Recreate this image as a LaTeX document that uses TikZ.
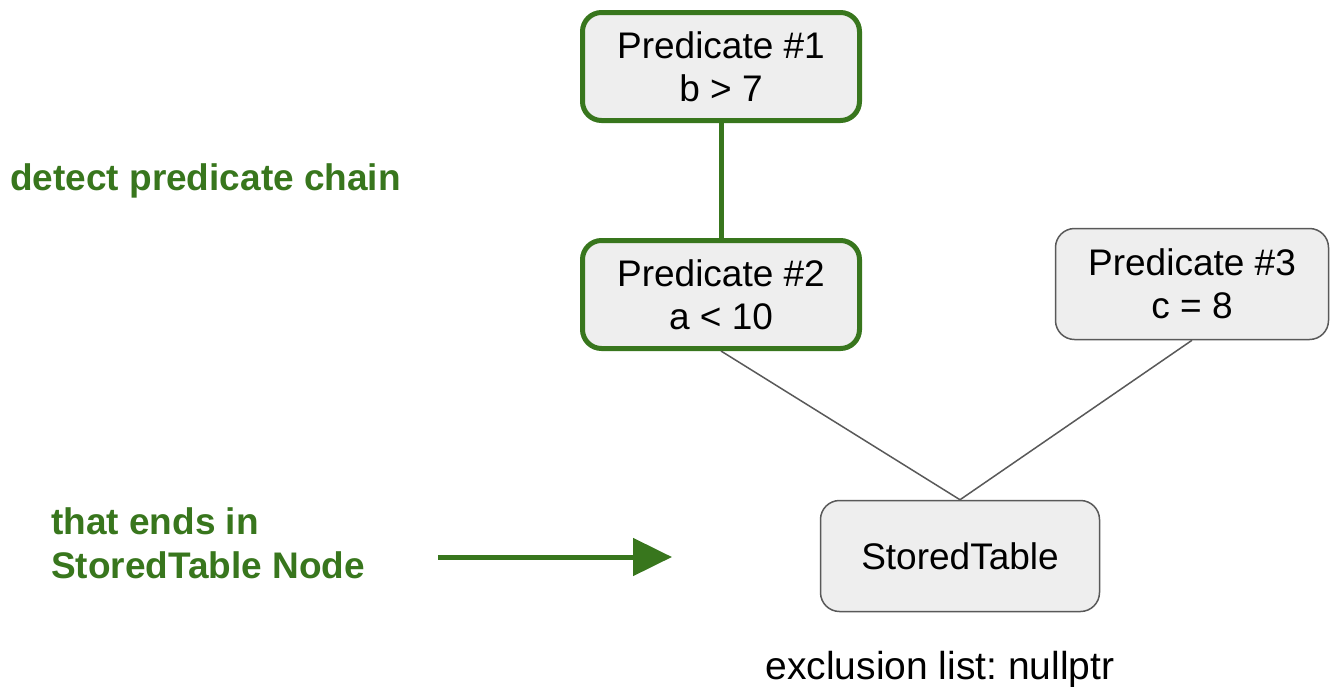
\documentclass[tikz,border=0pt]{standalone}
\usepackage{fontspec}
\setmainfont{Liberation Sans}
\usetikzlibrary{arrows.meta}
\frenchspacing
\definecolor{chaingreen}{HTML}{38761D}
\definecolor{boxfill}{HTML}{EEEEEE}
\definecolor{edgegrey}{HTML}{595959}
\tikzset{
  boxtext/.style={font=\fontsize{37}{43}\selectfont, align=center, text=black},
  chainbox/.style={boxtext, draw=chaingreen, line width=5pt, fill=boxfill,
    rounded corners=19pt, minimum width=277pt, minimum height=108pt, inner sep=0pt},
  plainbox/.style={boxtext, draw=edgegrey, line width=1.5pt, fill=boxfill,
    rounded corners=19pt, inner sep=0pt},
  chainlink/.style={draw=chaingreen, line width=5pt},
  treelink/.style={draw=edgegrey, line width=1.5pt},
  notegreen/.style={font=\fontsize{37}{44}\selectfont\bfseries, text=chaingreen,
    align=left, inner sep=0pt}
}
\begin{document}
\begin{tikzpicture}[x=1pt,y=-1pt]
  \useasboundingbox (0,0) rectangle (1330,686);

  % predicate chain
  \node[chainbox] (p1) at (721,66.5) {Predicate \#1\\b > 7};
  \node[chainbox] (p2) at (721,294.5) {Predicate \#2\\a < 10};
  \node[plainbox, minimum width=273pt, minimum height=111pt] (p3) at (1192,284) {Predicate \#3\\c = 8};
  \node[plainbox, minimum width=279pt, minimum height=111pt] (st) at (960,556) {StoredTable};

  \draw[chainlink] (p1.south) -- (p2.north);
  \draw[treelink] (p2.south) -- (st.north);
  \draw[treelink] (p3.south) -- (st.north);

  \node[boxtext, font=\fontsize{39}{45}\selectfont, anchor=base, inner sep=0pt] (excl) at (940,679) {exclusion list: nullptr};

  % annotations
  \node[notegreen, anchor=base west] (detect) at (10,190) {detect predicate chain};
  \node[notegreen, anchor=north west] (ends) at (51,507) {that ends in\\StoredTable Node};

  \coordinate (arrowstart) at (438,557);
  \coordinate (arrowend) at (672,557);
  \draw[chainlink, -{Triangle[length=39pt, width=37pt]}] (arrowstart) -- (arrowend);
\end{tikzpicture}
\end{document}
